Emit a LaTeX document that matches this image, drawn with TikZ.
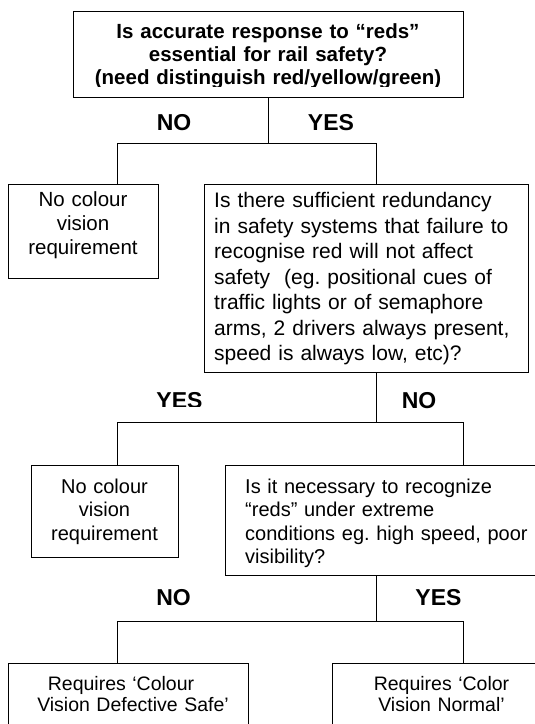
\documentclass[tikz,border=0pt]{standalone}
\usepackage{fontspec}
\setmainfont{Liberation Sans}
\frenchspacing
\begin{document}
\begin{tikzpicture}[x=1pt,y=-1pt,
  box/.style={draw, line width=1.3pt, rectangle, inner sep=0pt, anchor=north west},
  txt/.style={inner sep=0pt, text width=#1},
  bodyfont/.style={font=\fontsize{20.5}{24}\selectfont},
  headfont/.style={font=\fontsize{20.5}{23}\selectfont\bfseries},
  answer/.style={inner sep=0pt, font=\fontsize{23}{27}\selectfont\bfseries},
  link/.style={line width=1pt}]
\useasboundingbox (0,0) rectangle (535,724);
\clip (0,0) rectangle (535,724);

% boxes
\node[box, minimum width=390pt, minimum height=86pt]  (q1) at (73,11)  {};
\node[box, minimum width=150pt, minimum height=94pt]  (n1) at (8,184)  {};
\node[box, minimum width=324pt, minimum height=188pt] (q2) at (204,184) {};
\node[box, minimum width=147pt, minimum height=92pt]  (n2) at (31,465) {};
\node[box, minimum width=330pt, minimum height=110pt] (q3) at (225,465) {};
\node[box, minimum width=240pt, minimum height=80pt]  (r1) at (8,663)  {};
\node[box, minimum width=230pt, minimum height=80pt]  (r2) at (332,663) {};

% texts
\begin{scope}
  \clip (73,11) rectangle (463,86);
  \node[txt=386pt, align=center, anchor=base, headfont] (q1t) at (268,38.5)
    {Is accurate response to “reds”\\essential for rail safety?\\(need distinguish red/yellow/green)};
\end{scope}
\node[txt=146pt, align=center, anchor=base, bodyfont] (n1t) at (83,206)
  {No colour\\vision\\requirement};
\node[txt=318pt, align=left, anchor=base west, font=\fontsize{21}{25.5}\selectfont] (q2t) at (214,207.5)
  {Is there sufficient redundancy\\in safety systems that failure to\\recognise red will not affect\\safety~ (eg. positional cues of\\traffic lights or of semaphore\\arms, 2 drivers always present,\\speed is always low, etc)?};
\node[txt=144pt, align=center, anchor=base, font=\fontsize{20}{23.5}\selectfont] (n2t) at (104.5,493)
  {No colour\\vision\\requirement};
\node[txt=310pt, align=left, anchor=base west, font=\fontsize{20}{23.5}\selectfont] (q3t) at (245,493)
  {Is it necessary to recognize\\“reds” under extreme\\conditions eg. high speed, poor\\visibility?};
\node[txt=236pt, align=center, anchor=base, font=\fontsize{19.5}{21}\selectfont] (r1t) at (133,690)
  {Requires ‘Colour\hphantom{\kern24pt}\\Vision Defective Safe’};
\node[txt=226pt, align=center, anchor=base, font=\fontsize{19.5}{21}\selectfont] (r2t) at (441.5,690)
  {Requires ‘Color\\Vision Normal’};

% answer labels
\node[answer] (a1n) at (174,122.5) {NO};
\node[answer] (a1y) at (331,122.5) {YES};
\begin{scope}
  \clip (150,380) rectangle (210,406.5);
  \node[answer] (a2y) at (179.5,401) {YES};
\end{scope}
\node[answer] (a2n) at (419,401) {NO};
\begin{scope}
  \clip (150,580) rectangle (200,605.5);
  \node[answer] (a3n) at (173.5,598) {NO};
\end{scope}
\node[answer] (a3y) at (438.5,598) {YES};

% branching connectors
\coordinate (s1) at (268,143);
\coordinate (l1) at (117,143);
\coordinate (r1c) at (376,143);
\draw[link] (q1.south -| s1) -- (s1);
\draw[link] (l1) -- (r1c);
\draw[link] (l1) -- (l1 |- n1.north);
\draw[link] (r1c) -- (r1c |- q2.north);

\coordinate (s2) at (376,422);
\coordinate (l2) at (117,422);
\coordinate (r2c) at (463,422);
\draw[link] (q2.south -| s2) -- (s2);
\draw[link] (l2) -- (r2c);
\draw[link] (l2) -- (l2 |- n2.north);
\draw[link] (r2c) -- (r2c |- q3.north);

\coordinate (s3) at (376,621);
\coordinate (l3) at (117,621);
\coordinate (r3c) at (463,621);
\draw[link] (q3.south -| s3) -- (s3);
\draw[link] (l3) -- (r3c);
\draw[link] (l3) -- (l3 |- r1.north);
\draw[link] (r3c) -- (r3c |- r2.north);
\end{tikzpicture}
\end{document}
